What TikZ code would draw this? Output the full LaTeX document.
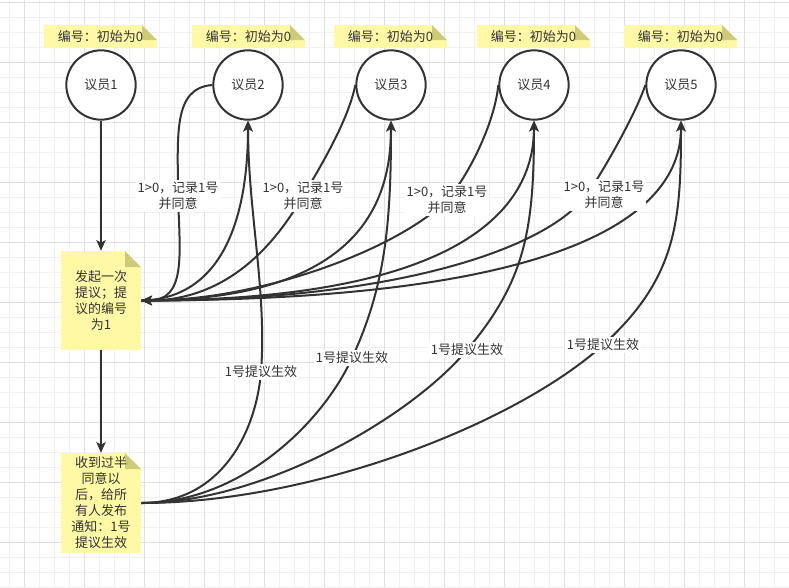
\documentclass[tikz,border=0pt]{standalone}
\usepackage{fontspec}
\newfontfamily\cjk{Noto Sans CJK SC}
\usetikzlibrary{arrows.meta}
\definecolor{ink}{HTML}{333333}
\definecolor{notebg}{HTML}{FFF9A6}
\definecolor{notefold}{HTML}{CDCB76}
\definecolor{gridlo}{HTML}{F0F0F0}
\definecolor{gridhi}{HTML}{E0E0E0}
\begin{document}
\begin{tikzpicture}[x=0.75pt,y=-0.75pt,
  every node/.style={font=\cjk\fontsize{9.75}{12}\selectfont,text=ink},
  member/.style={circle,draw=ink,line width=1.5pt,fill=white,minimum size=52pt,inner sep=0pt},
  memo/.style={inner sep=0pt,align=center},
  tag/.style={fill=white,inner sep=1.5pt,align=center},
  link/.style={draw=ink,line width=1.5pt,-{Stealth[length=8pt,width=7pt,inset=2pt]}}]
\useasboundingbox (0,0) rectangle (789,587);
\fill[white] (0,0) rectangle (789,587);
\foreach \gx in {9,24,...,789} \draw[gridlo,line width=0.75pt] (\gx,0) -- (\gx,587);
\foreach \gy in {2,17,...,587} \draw[gridlo,line width=0.75pt] (0,\gy) -- (789,\gy);
\foreach \gx in {24,84,...,789} \draw[gridhi,line width=0.75pt] (\gx,0) -- (\gx,587);
\foreach \gy in {2,62,...,587} \draw[gridhi,line width=0.75pt] (0,\gy) -- (789,\gy);
\begin{scope}[shift={(44,25)}]
\fill[notebg] (0,0) -- (98,0) -- (113,15) -- (113,23) -- (0,23) -- cycle;
\fill[notefold] (98,0) -- (98,15) -- (113,15) -- cycle;
\node[memo] (h1) at (56.5,11.5) {编号：初始为0};
\end{scope}
\begin{scope}[shift={(192,25)}]
\fill[notebg] (0,0) -- (98,0) -- (113,15) -- (113,23) -- (0,23) -- cycle;
\fill[notefold] (98,0) -- (98,15) -- (113,15) -- cycle;
\node[memo] (h2) at (56.5,11.5) {编号：初始为0};
\end{scope}
\begin{scope}[shift={(334,25)}]
\fill[notebg] (0,0) -- (98,0) -- (113,15) -- (113,23) -- (0,23) -- cycle;
\fill[notefold] (98,0) -- (98,15) -- (113,15) -- cycle;
\node[memo] (h3) at (56.5,11.5) {编号：初始为0};
\end{scope}
\begin{scope}[shift={(477,25)}]
\fill[notebg] (0,0) -- (98,0) -- (113,15) -- (113,23) -- (0,23) -- cycle;
\fill[notefold] (98,0) -- (98,15) -- (113,15) -- cycle;
\node[memo] (h4) at (56.5,11.5) {编号：初始为0};
\end{scope}
\begin{scope}[shift={(624,25)}]
\fill[notebg] (0,0) -- (98,0) -- (113,15) -- (113,23) -- (0,23) -- cycle;
\fill[notefold] (98,0) -- (98,15) -- (113,15) -- cycle;
\node[memo] (h5) at (56.5,11.5) {编号：初始为0};
\end{scope}
\node[member] (c1) at (101,85) {议员1};
\node[member] (c2) at (248,85) {议员2};
\node[member] (c3) at (391,85) {议员3};
\node[member] (c4) at (534,85) {议员4};
\node[member] (c5) at (681,85) {议员5};
\begin{scope}[shift={(61,251)}]
\fill[notebg] (0,0) -- (64,0) -- (80,16) -- (80,99) -- (0,99) -- cycle;
\fill[notefold] (64,0) -- (64,16) -- (80,16) -- cycle;
\node[memo,minimum width=60pt,minimum height=74.25pt] (n1) at (40,49.5) {发起一次\\提议；提\\议的编号\\为1};
\end{scope}
\begin{scope}[shift={(61,453)}]
\fill[notebg] (0,0) -- (64,0) -- (80,16) -- (80,100) -- (0,100) -- cycle;
\fill[notefold] (64,0) -- (64,16) -- (80,16) -- cycle;
\node[memo,minimum width=60pt,minimum height=75pt] (n2) at (40,50) {收到过半\\同意以\\后，给所\\有人发布\\通知：1号\\提议生效};
\end{scope}
% label spots on the curves
\coordinate (r2) at (178,196);
\coordinate (r3) at (303,196);
\coordinate (r4) at (447,200);
\coordinate (r5) at (604,195);
\coordinate (k5) at (588,193);
\coordinate (e2) at (261,372);
\coordinate (e3) at (352,358);
\coordinate (e4) at (467,350);
\coordinate (e5) at (603,345);
\draw[link] (c1.south) -- (n1.north);
\draw[link] (n1.south) -- (n2.north);
\draw[link] (n1.east) .. controls +(90,-2) and +(0,80) .. (c2.south);
\draw[link] (n1.east) .. controls +(220,0) and +(0,80) .. (c3.south);
\draw[link] (n1.east) .. controls +(334,0) and +(0,80) .. (c4.south);
\draw[link] (n1.east) .. controls +(460,0) and +(0,80) .. (c5.south);
\draw[link] (c2.west) .. controls +(-40,3) and +(0,-60) .. (r2) .. controls +(2,60) and +(45,0) .. (n1.east);
\draw[link] (c3.west) .. controls +(-7,35) and +(18,-30) .. (r3) .. controls +(-25,43) and +(90,0) .. (n1.east);
\draw[link] (c4.west) .. controls +(-4,40) and +(20,-22) .. (r4) .. controls +(-49,49) and +(120,0) .. (n1.east);
\draw[link] (c5.west) .. controls +(-10,30) and +(14,-20) .. (k5) .. controls +(-40,57) and +(250,0) .. (n1.east);
\draw[link] (n2.east) .. controls +(80,0) and +(-5,60) .. (e2) .. controls +(6,-80) and +(0,90) .. (c2.south);
\draw[link] (n2.east) .. controls +(100,0) and +(-29,64) .. (e3) .. controls +(34,-73) and +(0,100) .. (c3.south);
\draw[link] (n2.east) .. controls +(120,0) and +(-58,69) .. (e4) .. controls +(58,-69) and +(0,110) .. (c4.south);
\draw[link] (n2.east) .. controls +(170,0) and +(-89,80) .. (e5) .. controls +(74,-67) and +(0,100) .. (c5.south);
\node[tag] (t2) at (r2) {1>0，记录1号\\并同意};
\node[tag] (t3) at (r3) {1>0，记录1号\\并同意};
\node[tag] (t4) at (r4) {1>0，记录1号\\并同意};
\node[tag] (t5) at (r5) {1>0，记录1号\\并同意};
\node[tag] (g2) at (e2) {1号提议生效};
\node[tag] (g3) at (e3) {1号提议生效};
\node[tag] (g4) at (e4) {1号提议生效};
\node[tag] (g5) at (e5) {1号提议生效};
\end{tikzpicture}
\end{document}
